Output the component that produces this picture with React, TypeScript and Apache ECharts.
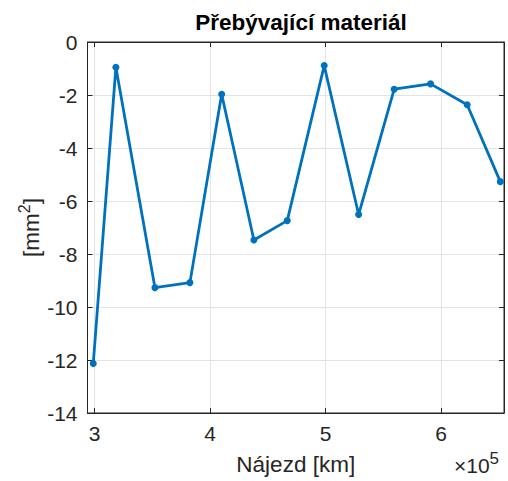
import React, { useEffect, useRef } from "react";
import * as echarts from "echarts";

const mileageKm = [298800, 318400, 352200, 382500, 410000, 437900, 466800, 498800, 528600, 559400, 590900, 622600, 651300];
const excessMaterial = [-12.13, -0.95, -9.27, -9.08, -1.97, -7.47, -6.74, -0.89, -6.51, -1.78, -1.58, -2.37, -5.27];
const xTicks = [300000, 400000, 500000, 600000];
const yTicks = [0, -2, -4, -6, -8, -10, -12, -14];

const FONT = "Liberation Sans, Arial, Helvetica, sans-serif";
const TXT = "#262626";
const GRID = "#e3e3e3";

export default function App() {
  const ref = useRef<HTMLDivElement>(null);
  useEffect(() => {
    document.body.style.margin = "0";
    const chart = echarts.init(ref.current!, null, { renderer: "svg" });
    const data = mileageKm.map((x, i) => [x, excessMaterial[i]]);
    const xMin = 293800;
    const xMax = 654500;
    chart.setOption({
      animation: false,
      backgroundColor: "#ffffff",
      title: {
        text: "Přebývající materiál",
        left: 296,
        top: 6,
        textAlign: "center",
        textStyle: { fontFamily: FONT, fontSize: 22.5, fontWeight: "bold", color: "#000" },
      },
      grid: { left: 87.5, top: 42, right: 4, bottom: 66, show: true, borderColor: TXT, borderWidth: 1 },
      xAxis: [
        {
          type: "value",
          min: xMin,
          max: xMax,
          axisLine: { show: true, onZero: false, lineStyle: { color: TXT } },
          axisTick: { show: true, inside: true, length: 5, lineStyle: { color: TXT }, customValues: xTicks },
          axisLabel: {
            fontFamily: FONT,
            fontSize: 21,
            color: TXT,
            margin: 10,
            customValues: xTicks,
            formatter: (v: number) => String(Math.round(v / 100000)),
          },
          splitLine: { show: true, lineStyle: { color: GRID, width: 1 } },
          name: "Nájezd [km]",
          nameLocation: "middle",
          nameGap: 40,
          nameMoveOverlap: false,
          nameTextStyle: { fontFamily: FONT, fontSize: 22.5, color: TXT, verticalAlign: "top" },
        },
        {
          type: "value",
          position: "top",
          min: xMin,
          max: xMax,
          axisLine: { show: true, onZero: false, lineStyle: { color: TXT } },
          axisTick: { show: true, inside: true, length: 5, lineStyle: { color: TXT }, customValues: xTicks },
          axisLabel: { show: false },
          splitLine: { show: false },
        },
      ],
      yAxis: [
        {
          type: "value",
          min: -14,
          max: 0,
          interval: 2,
          axisLine: { show: true, onZero: false, lineStyle: { color: TXT } },
          axisTick: { show: true, inside: true, length: 5, lineStyle: { color: TXT } },
          axisLabel: { fontFamily: FONT, fontSize: 21, color: TXT, margin: 10, formatter: (v: number) => (yTicks.includes(v) ? String(v) : "") },
          splitLine: { show: true, lineStyle: { color: GRID, width: 1 } },
          name: "{a|[mm}{b|2}{a|]}",
          nameLocation: "middle",
          nameGap: 45,
          nameMoveOverlap: false,
          nameRotate: 90,
          nameTextStyle: {
            rich: {
              a: { fontFamily: FONT, fontSize: 22.5, color: TXT, verticalAlign: "bottom", lineHeight: 26 },
              b: { fontFamily: FONT, fontSize: 16, color: TXT, verticalAlign: "top", padding: [0, 0, 12, 0], lineHeight: 26 },
            },
          },
        },
        {
          type: "value",
          position: "right",
          min: -14,
          max: 0,
          interval: 2,
          axisLine: { show: true, onZero: false, lineStyle: { color: TXT } },
          axisTick: { show: true, inside: true, length: 5, lineStyle: { color: TXT } },
          axisLabel: { show: false },
          splitLine: { show: false },
        },
      ],
      graphic: [
        {
          type: "text",
          left: 454,
          top: 450,
          style: {
            text: "{a|×10}{b|5}",
            rich: {
              a: { fontFamily: FONT, fontSize: 21, fill: TXT, lineHeight: 26, verticalAlign: "bottom" },
              b: { fontFamily: FONT, fontSize: 17, fill: TXT, lineHeight: 26, verticalAlign: "top", padding: [0, 0, 14, 0] },
            },
          },
        },
      ],
      series: [
        {
          type: "line",
          xAxisIndex: 0,
          yAxisIndex: 0,
          data,
          symbol: "circle",
          symbolSize: 7,
          lineStyle: { color: "#0072BD", width: 2.8 },
          itemStyle: { color: "#0072BD" },
        },
      ],
    });
    return () => chart.dispose();
  }, []);
  return <div ref={ref} style={{ position: "absolute", left: 0, top: 0, width: 508, height: 481 }} />;
}
